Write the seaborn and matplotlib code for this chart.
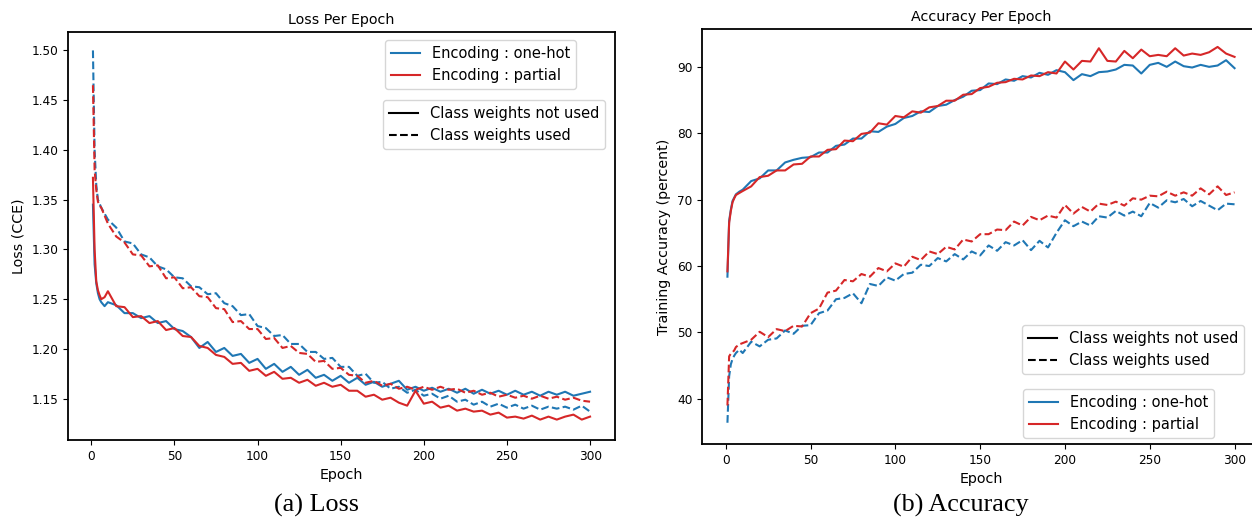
import pandas as pd
import matplotlib
matplotlib.use("Agg")
import matplotlib.pyplot as plt
import seaborn as sns
from matplotlib.lines import Line2D

epochs = [1, 2, 3, 4, 5, 6, 8, 10] + list(range(15, 301, 5))

# Loss (CCE)
loss_onehot_nw = [1.345, 1.285, 1.266, 1.256, 1.250, 1.247, 1.243, 1.247,
                  1.244, 1.236, 1.236, 1.231, 1.233, 1.226, 1.228, 1.220, 1.218, 1.212,
                  1.201, 1.207, 1.197, 1.201, 1.193, 1.195, 1.186, 1.190, 1.180, 1.185,
                  1.177, 1.182, 1.174, 1.179, 1.171, 1.174, 1.168, 1.173, 1.166, 1.171,
                  1.164, 1.167, 1.162, 1.165, 1.168, 1.159, 1.162, 1.158, 1.161, 1.157,
                  1.160, 1.156, 1.160, 1.155, 1.159, 1.155, 1.158, 1.154, 1.158, 1.154,
                  1.157, 1.153, 1.157, 1.154, 1.157, 1.153, 1.155, 1.157]
loss_partial_nw = [1.372, 1.300, 1.268, 1.259, 1.254, 1.250, 1.252, 1.258,
                   1.243, 1.242, 1.232, 1.233, 1.226, 1.228, 1.219, 1.221, 1.213, 1.212,
                   1.203, 1.201, 1.194, 1.192, 1.185, 1.186, 1.178, 1.180, 1.173, 1.177,
                   1.170, 1.171, 1.166, 1.169, 1.163, 1.166, 1.162, 1.164, 1.158, 1.158,
                   1.152, 1.154, 1.149, 1.151, 1.146, 1.143, 1.158, 1.145, 1.147, 1.141,
                   1.143, 1.138, 1.140, 1.137, 1.138, 1.134, 1.136, 1.131, 1.132, 1.130,
                   1.133, 1.129, 1.132, 1.129, 1.132, 1.134, 1.129, 1.132]
loss_onehot_w = [1.500, 1.400, 1.365, 1.350, 1.346, 1.342, 1.336, 1.330,
                 1.322, 1.308, 1.306, 1.295, 1.292, 1.283, 1.280, 1.272, 1.271, 1.263,
                 1.262, 1.255, 1.256, 1.246, 1.243, 1.234, 1.235, 1.223, 1.221, 1.213,
                 1.214, 1.205, 1.205, 1.197, 1.197, 1.190, 1.191, 1.182, 1.182, 1.173,
                 1.175, 1.166, 1.167, 1.160, 1.162, 1.156, 1.159, 1.153, 1.155, 1.150,
                 1.153, 1.147, 1.149, 1.144, 1.147, 1.142, 1.145, 1.141, 1.144, 1.140,
                 1.143, 1.139, 1.142, 1.140, 1.142, 1.139, 1.143, 1.137]
loss_partial_w = [1.465, 1.380, 1.360, 1.348, 1.344, 1.342, 1.334, 1.326,
                  1.313, 1.307, 1.295, 1.294, 1.283, 1.284, 1.271, 1.272, 1.261, 1.262,
                  1.253, 1.252, 1.241, 1.240, 1.227, 1.228, 1.220, 1.220, 1.210, 1.211,
                  1.201, 1.203, 1.196, 1.195, 1.187, 1.188, 1.180, 1.181, 1.174, 1.173,
                  1.166, 1.168, 1.163, 1.165, 1.160, 1.162, 1.159, 1.162, 1.159, 1.162,
                  1.159, 1.160, 1.156, 1.158, 1.154, 1.156, 1.152, 1.154, 1.151, 1.153,
                  1.150, 1.153, 1.150, 1.152, 1.149, 1.151, 1.148, 1.147]

# Training accuracy (percent)
acc_onehot_nw = [58.4, 66.8, 68.5, 69.8, 70.3, 70.8, 71.2, 71.5,
                 72.8, 73.2, 74.4, 74.4, 75.6, 76.0, 76.3, 76.4, 77.1, 77.1,
                 78.1, 78.3, 79.2, 79.2, 80.3, 80.2, 81.0, 81.4, 82.3, 82.6,
                 83.3, 83.2, 84.1, 84.3, 85.0, 85.5, 86.4, 86.5, 87.5, 87.4,
                 88.1, 87.9, 88.6, 88.4, 89.1, 88.8, 89.5, 89.2, 88.0, 88.9,
                 88.6, 89.2, 89.3, 89.6, 90.3, 90.2, 89.0, 90.3, 90.6, 90.0,
                 90.8, 90.1, 89.9, 90.3, 90.0, 90.2, 91.0, 89.8]
acc_partial_nw = [59.2, 66.5, 68.3, 69.6, 70.2, 70.7, 71.0, 71.3,
                  72.0, 73.4, 73.6, 74.4, 74.4, 75.3, 75.4, 76.5, 76.5, 77.5,
                  77.6, 78.9, 78.8, 79.9, 80.1, 81.5, 81.3, 82.6, 82.4, 83.3,
                  83.1, 83.9, 84.1, 84.9, 84.9, 85.8, 85.9, 86.8, 87.0, 87.6,
                  87.7, 88.2, 88.1, 88.7, 88.6, 89.2, 89.0, 90.8, 89.6, 90.9,
                  90.8, 92.8, 90.9, 90.8, 92.4, 91.3, 92.6, 91.6, 91.8, 91.6,
                  92.8, 91.7, 92.0, 91.8, 92.2, 93.0, 92.0, 91.5]
acc_onehot_w = [36.4, 43.4, 45.2, 46.0, 46.5, 46.9, 47.4, 46.9,
                48.6, 47.9, 48.9, 49.1, 50.3, 49.8, 51.0, 51.1, 52.9, 53.3,
                55.0, 55.2, 55.9, 54.4, 57.3, 57.0, 58.3, 57.8, 58.8, 59.0,
                60.2, 60.0, 61.2, 60.7, 61.8, 61.0, 62.2, 61.6, 63.1, 62.3,
                63.6, 63.1, 63.9, 62.4, 63.8, 62.8, 65.0, 66.9, 66.0, 66.7,
                66.1, 67.5, 67.3, 68.3, 67.6, 68.2, 67.5, 69.5, 68.8, 69.9,
                69.6, 70.1, 69.0, 69.8, 69.1, 68.4, 69.4, 69.3]
acc_partial_w = [39.0, 46.4, 46.8, 47.0, 47.3, 47.8, 48.2, 48.4,
                 48.9, 50.1, 49.3, 50.5, 50.2, 51.0, 50.9, 52.9, 53.6, 56.0,
                 56.3, 57.9, 57.7, 58.8, 58.4, 59.7, 59.2, 60.4, 59.9, 61.4,
                 60.9, 62.2, 61.8, 62.9, 62.5, 64.0, 63.7, 64.8, 64.8, 65.5,
                 65.4, 66.7, 66.1, 67.4, 66.9, 67.6, 67.3, 69.2, 67.9, 68.9,
                 68.2, 69.4, 69.2, 69.7, 69.1, 70.2, 70.0, 70.6, 70.5, 71.2,
                 70.6, 71.1, 70.6, 71.7, 70.8, 72.0, 70.7, 71.1]

encodings = ["Encoding : one-hot", "Encoding : partial"]
weight_labels = ["Class weights not used", "Class weights used"]
palette = {"Encoding : one-hot": "#1f77b4", "Encoding : partial": "#d62728"}
dash_map = {"Class weights not used": "", "Class weights used": (3.7, 1.6)}


def long_frame(series):
    parts = []
    for (enc, w), vals in series.items():
        parts.append(pd.DataFrame({"Epoch": epochs, "value": vals,
                                   "enc": enc, "weights": w}))
    return pd.concat(parts, ignore_index=True)


df_loss = long_frame({
    (encodings[0], weight_labels[0]): loss_onehot_nw,
    (encodings[0], weight_labels[1]): loss_onehot_w,
    (encodings[1], weight_labels[0]): loss_partial_nw,
    (encodings[1], weight_labels[1]): loss_partial_w,
})
df_acc = long_frame({
    (encodings[0], weight_labels[0]): acc_onehot_nw,
    (encodings[0], weight_labels[1]): acc_onehot_w,
    (encodings[1], weight_labels[0]): acc_partial_nw,
    (encodings[1], weight_labels[1]): acc_partial_w,
})

plt.rcParams.update({
    "font.family": "DejaVu Sans",
    "axes.linewidth": 1.3,
    "xtick.labelsize": 8.7,
    "ytick.labelsize": 8.7,
    "axes.titlesize": 10.3,
    "axes.labelsize": 10.3,
    "legend.fontsize": 10.5,
})

fig = plt.figure(figsize=(12.52, 5.17), dpi=100)
ax1 = fig.add_axes([68 / 1252, 77 / 517, 547 / 1252, 408 / 517])
ax2 = fig.add_axes([702 / 1252, 73 / 517, 558 / 1252, 415 / 517])

for ax, df in [(ax1, df_loss), (ax2, df_acc)]:
    sns.lineplot(data=df, x="Epoch", y="value", hue="enc", style="weights",
                 hue_order=encodings, style_order=weight_labels,
                 palette=palette, dashes=dash_map, linewidth=1.5,
                 errorbar=None, legend=False, ax=ax)
    ax.set_xlim(-14, 315)
    ax.set_xticks([0, 50, 100, 150, 200, 250, 300])
    ax.set_xlabel("Epoch")

ax1.set_ylim(1.1085, 1.5185)
ax1.set_yticks([1.15, 1.20, 1.25, 1.30, 1.35, 1.40, 1.45, 1.50])
ax1.set_ylabel("Loss (CCE)")
ax1.set_title("Loss Per Epoch")

ax2.set_ylim(33.2, 95.7)
ax2.set_yticks([40, 50, 60, 70, 80, 90])
ax2.set_ylabel("Training Accuracy (percent)")
ax2.set_title("Accuracy Per Epoch")

enc_handles = [Line2D([], [], color=palette[e], lw=1.5) for e in encodings]
wt_handles = [Line2D([], [], color="black", lw=1.5, linestyle="-"),
              Line2D([], [], color="black", lw=1.5, linestyle="--")]

leg = ax1.legend(enc_handles, encodings, loc="upper right",
                 bbox_to_anchor=(0.9287, 0.9804), borderaxespad=0)
ax1.add_artist(leg)
ax1.legend(wt_handles, weight_labels, loc="upper right",
           bbox_to_anchor=(0.9817, 0.8333), borderaxespad=0)

leg = ax2.legend(wt_handles, weight_labels, loc="upper left",
                 bbox_to_anchor=(0.5735, 0.2867), borderaxespad=0)
ax2.add_artist(leg)
ax2.legend(enc_handles, encodings, loc="upper left",
           bbox_to_anchor=(0.5753, 0.1325), borderaxespad=0)

# sub-figure captions
fig.text(316 / 1252, 5 / 517, "(a) Loss", ha="center", va="baseline",
         family="Liberation Serif", fontsize=18.8)
fig.text(961 / 1252, 5 / 517, "(b) Accuracy", ha="center", va="baseline",
         family="Liberation Serif", fontsize=18.8)

fig.savefig("out.png", dpi=100)
